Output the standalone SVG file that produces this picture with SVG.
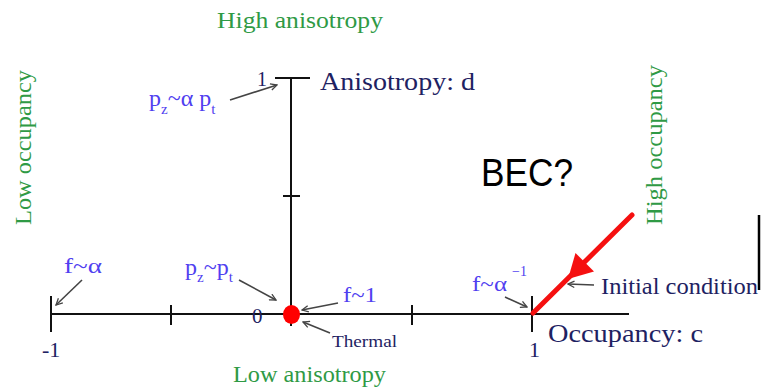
<svg xmlns="http://www.w3.org/2000/svg" width="761" height="388" viewBox="0 0 761 388">
<style>
.serif{font-family:"Liberation Serif","Times New Roman",serif}
.green{fill:#2f9a45}
.navy{fill:#1e2262}
.blue{fill:#5040f0}
.axis{stroke:#111;stroke-width:2;fill:none}
.conn{stroke:#444;stroke-width:1.6;fill:none;marker-end:url(#ah)}
</style>
<defs>
<marker id="ah" viewBox="0 0 10 10" refX="9" refY="5" markerWidth="8" markerHeight="8" markerUnits="userSpaceOnUse" orient="auto">
<path d="M1,1 L9,5 L1,9" fill="none" stroke="#444" stroke-width="1.6"/>
</marker>
</defs>
<rect width="761" height="388" fill="#fff"/>

<g id="axes">
<line class="axis" x1="51" y1="314" x2="629" y2="314"/>
<line class="axis" x1="51" y1="296" x2="51" y2="332"/>
<line class="axis" x1="171" y1="305" x2="171" y2="325"/>
<line class="axis" x1="412" y1="305" x2="412" y2="325"/>
<line class="axis" x1="532" y1="296" x2="532" y2="332"/>
<line class="axis" x1="291" y1="78" x2="291" y2="326"/>
<line class="axis" x1="275" y1="78" x2="310" y2="78"/>
<line class="axis" x1="283" y1="196" x2="300" y2="196"/>
<line x1="759" y1="215" x2="759" y2="290" stroke="#000" stroke-width="2.5"/>
</g>

<g id="labels-axes">
<text class="serif green" x="300" y="28" font-size="24" text-anchor="middle" textLength="166" lengthAdjust="spacingAndGlyphs">High anisotropy</text>
<text class="serif green" x="309.5" y="382" font-size="24" text-anchor="middle" textLength="153" lengthAdjust="spacingAndGlyphs">Low anisotropy</text>
<text class="serif green" font-size="24" text-anchor="middle" transform="translate(31,147.5) rotate(-90)" textLength="155" lengthAdjust="spacingAndGlyphs">Low occupancy</text>
<text class="serif green" font-size="24" text-anchor="middle" transform="translate(662,145) rotate(-90)" textLength="160" lengthAdjust="spacingAndGlyphs">High occupancy</text>
<text class="serif navy" x="320" y="90" font-size="26" textLength="155" lengthAdjust="spacingAndGlyphs">Anisotropy: d</text>
<text class="serif navy" x="548" y="342" font-size="26" textLength="155" lengthAdjust="spacingAndGlyphs">Occupancy: c</text>
<text class="serif navy" x="257" y="86" font-size="20">1</text>
<text class="serif navy" x="252" y="323" font-size="21">0</text>
<text class="serif navy" x="42" y="357" font-size="22">-1</text>
<text class="serif navy" x="529" y="357" font-size="22">1</text>
</g>

<g id="label-pz-alpha-pt">
<text class="serif blue" x="149" y="106" font-size="24">p<tspan font-size="15" dy="8">z</tspan><tspan dy="-8">~α p</tspan><tspan font-size="15" dy="8">t</tspan></text>
</g>
<g id="label-f-alpha">
<text class="serif blue" x="64" y="273" font-size="22" textLength="38" lengthAdjust="spacingAndGlyphs">f~α</text>
</g>
<g id="label-pz-pt">
<text class="serif blue" x="185" y="275" font-size="24">p<tspan font-size="15" dy="7">z</tspan><tspan dy="-7">~p</tspan><tspan font-size="15" dy="7">t</tspan></text>
</g>
<g id="label-f-1">
<text class="serif blue" x="343" y="302" font-size="22" textLength="34" lengthAdjust="spacingAndGlyphs">f~1</text>
</g>
<g id="label-f-alpha-inv">
<text class="serif blue" x="472" y="291" font-size="22" textLength="35" lengthAdjust="spacingAndGlyphs">f~α</text>
<text class="serif blue" x="512" y="276" font-size="14">−1</text>
</g>
<g id="label-thermal">
<text class="serif navy" x="332" y="347" font-size="17" textLength="65" lengthAdjust="spacingAndGlyphs">Thermal</text>
</g>
<g id="label-initial">
<text class="serif navy" x="601" y="294" font-size="24" textLength="157" lengthAdjust="spacingAndGlyphs">Initial condition</text>
</g>
<g id="label-bec">
<text x="481" y="186" font-family="'Liberation Sans',Arial,sans-serif" font-size="38" fill="#000" textLength="92" lengthAdjust="spacingAndGlyphs">BEC?</text>
</g>

<g id="thermal-point">
<ellipse cx="291.5" cy="314.5" rx="8.5" ry="9.5" fill="#ff0000"/>
</g>

<g id="initial-trajectory">
<line x1="632" y1="215" x2="533" y2="313" stroke="#f51010" stroke-width="5" stroke-linecap="round"/>
<polygon points="568,279 575.5,253 594,271.5" fill="#f51010"/>
</g>

<g id="connectors">
<line class="conn" x1="230" y1="100" x2="277" y2="85"/>
<line class="conn" x1="82" y1="280" x2="56" y2="305"/>
<line class="conn" x1="239" y1="280" x2="276" y2="300"/>
<line class="conn" x1="338" y1="303" x2="302" y2="310"/>
<line class="conn" x1="330" y1="333" x2="303" y2="322"/>
<line class="conn" x1="505" y1="297" x2="527" y2="307"/>
<line class="conn" x1="594" y1="285" x2="568" y2="284"/>
</g>
</svg>
